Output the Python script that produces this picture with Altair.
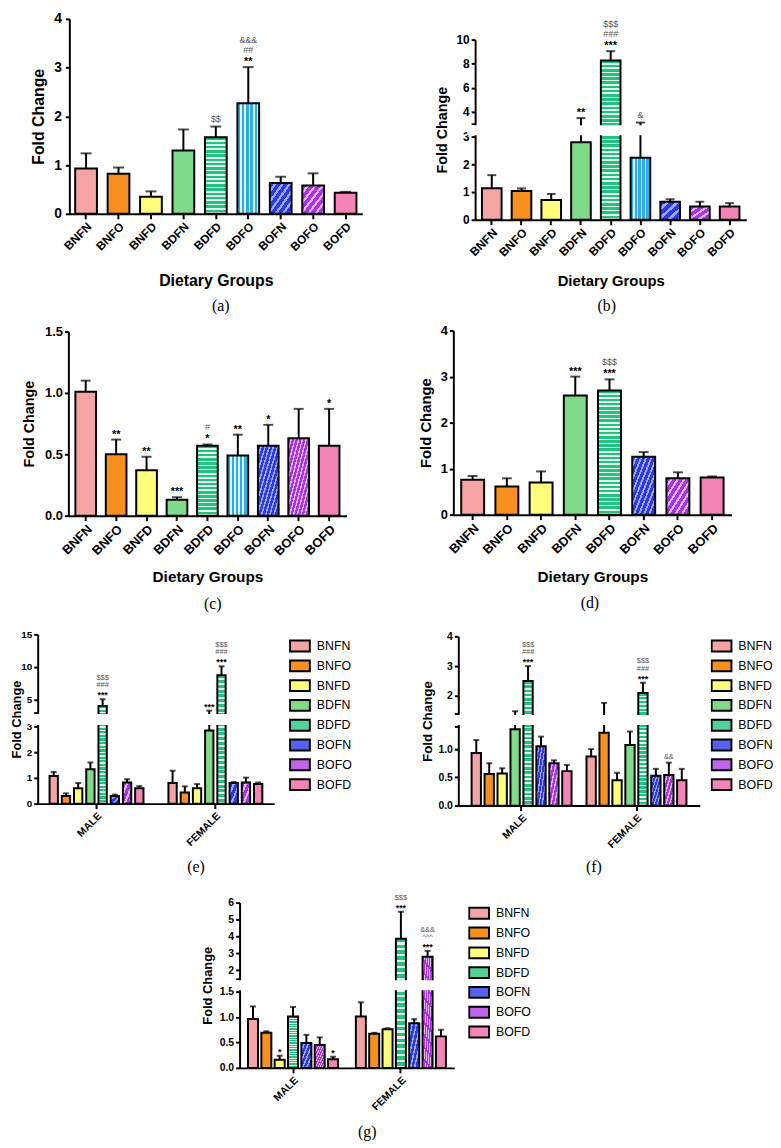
import altair as alt
import numpy as np
import pandas as pd

# ------------------------------------------------------------------ data
GAP = 1e-6  # tiny domain step used for the broken (split) y-axes

DIET9 = ["BNFN", "BNFO", "BNFD", "BDFN", "BDFD", "BDFO", "BOFN", "BOFO", "BOFD"]
DIET8 = ["BNFN", "BNFO", "BNFD", "BDFN", "BDFD", "BOFN", "BOFO", "BOFD"]
DIET7 = ["BNFN", "BNFO", "BNFD", "BDFD", "BOFN", "BOFO", "BOFD"]
SEXES = ["MALE", "FEMALE"]

# (a)
A_MEAN = [0.93, 0.82, 0.35, 1.30, 1.57, 2.27, 0.63, 0.58, 0.43]
A_ERR = [1.24, 0.95, 0.46, 1.73, 1.79, 3.01, 0.76, 0.83, 0.45]
A_NOTES = ["", "", "", "", "$$", "**|##|&&&", "", "", ""]
A_TICKS = [0, 1, 2, 3, 4]
A_TICK_LABELS = ["0", "1", "2", "3", "4"]

# (b)
B_MEAN = [1.14, 1.04, 0.71, 2.80, 8.26, 2.24, 0.65, 0.48, 0.48]
B_ERR = [1.61, 1.13, 0.93, 3.47, 9.04, 3.10, 0.74, 0.65, 0.60]
B_NOTES = ["", "", "", "**", "***|###|$$$", "&", "", "", ""]
B_TICKS = [0, 1, 2, 3, 3 + GAP, 4, 6, 8, 10]
B_TICK_LABELS = ["0", "1", "2", "3", "", "4", "6", "8", "10"]

# (c)
C_MEAN = [1.01, 0.50, 0.37, 0.13, 0.57, 0.49, 0.57, 0.63, 0.57]
C_ERR = [1.10, 0.62, 0.48, 0.15, 0.58, 0.66, 0.74, 0.87, 0.87]
C_NOTES = ["", "**", "**", "***", "*|#", "**", "*", "", "*"]
C_TICKS = [0, 0.5, 1.0, 1.5]
C_TICK_LABELS = ["0.0", "0.5", "1.0", "1.5"]

# (d)
D_MEAN = [0.76, 0.61, 0.70, 2.59, 2.70, 1.26, 0.79, 0.81]
D_ERR = [0.84, 0.79, 0.94, 3.00, 2.94, 1.36, 0.92, 0.83]
D_NOTES = ["", "", "", "***", "***|$$$", "", "", ""]
D_TICKS = [0, 1, 2, 3, 4]
D_TICK_LABELS = ["0", "1", "2", "3", "4"]

# (e)
E_MALE_MEAN = [1.07, 0.30, 0.60, 1.34, 4.03, 0.30, 0.82, 0.60]
E_MALE_ERR = [1.23, 0.40, 0.80, 1.60, 5.05, 0.35, 0.95, 0.68]
E_MALE_NOTES = ["", "", "", "", "***|###|$$$", "", "", ""]
E_FEMALE_MEAN = [0.80, 0.43, 0.60, 2.84, 8.72, 0.80, 0.82, 0.76]
E_FEMALE_ERR = [1.28, 0.67, 0.76, 3.30, 10.1, 0.84, 1.01, 0.82]
E_FEMALE_NOTES = ["", "", "", "***", "***|###|$$$", "", "", ""]
E_TICKS = [0, 1, 2, 3, 3 + GAP, 5, 10, 15]
E_TICK_LABELS = ["0", "1", "2", "3", "", "5", "10", "15"]

# (f)
F_MALE_MEAN = [0.93, 0.56, 0.57, 1.35, 2.50, 1.05, 0.75, 0.61]
F_MALE_ERR = [1.16, 0.75, 0.66, 1.48, 3.00, 1.22, 0.80, 0.72]
F_MALE_NOTES = ["", "", "", "", "***|###|$$$", "", "", ""]
F_FEMALE_MEAN = [0.87, 1.29, 0.45, 1.07, 2.09, 0.53, 0.54, 0.45]
F_FEMALE_ERR = [1.00, 1.76, 0.58, 1.31, 2.44, 0.65, 0.76, 0.65]
F_FEMALE_NOTES = ["", "", "", "", "***|###|$$$", "", "&&", ""]
F_TICKS = [0, 0.5, 1.0, 1.4, 1.4 + GAP, 2, 3, 4]
F_TICK_LABELS = ["0.0", "0.5", "1.0", "", "", "2", "3", "4"]

# (g)
G_MALE_MEAN = [0.96, 0.69, 0.16, 1.01, 0.49, 0.45, 0.17]
G_MALE_ERR = [1.21, 0.72, 0.24, 1.20, 0.65, 0.60, 0.22]
G_MALE_NOTES = ["", "", "*", "", "", "", "*"]
G_FEMALE_MEAN = [1.01, 0.67, 0.76, 3.87, 0.88, 2.80, 0.62]
G_FEMALE_ERR = [1.29, 0.69, 0.78, 5.46, 0.96, 3.15, 0.75]
G_FEMALE_NOTES = ["", "", "", "***|$$$", "", "***|^^^|&&&", ""]
G_TICKS = [0, 0.5, 1.0, 1.5, 1.5 + GAP, 2, 3, 4, 5, 6]
G_TICK_LABELS = ["0.0", "0.5", "1.0", "1.5", "", "2", "3", "4", "5", "6"]

# ------------------------------------------------------------------ styling / layout
W, H = 773, 1140
SHIFT_Y = 2


def gx(x):
    return x - 8


FONT = "Liberation Sans"
SERIF = "Liberation Serif"

SOLID = {
    "BNFN": "#F4A4A4", "BNFO": "#F7901F", "BNFD": "#FFFF7C", "BDFN": "#7FDB89",
    "BDFD": "#52D29B", "BDFO": "#5CC2E8", "BOFN": "#5562EC", "BOFO": "#BE66EA",
    "BOFD": "#F385B6",
}
PATTERN = {
    "BDFD": ("h", "#22C281", "#E2F8EE"),
    "BDFO": ("v", "#2FAEDD", "#DDF2FA"),
    "BOFN": ("d", "#2C3BE3", "#9EA7F5"),
    "BOFO": ("d", "#A637E0", "#E2B2F6"),
}


def stripes(kind, base, light, n):
    stops = []
    for i in range(n):
        a, b, c = i / n, (i + 0.62) / n, (i + 1) / n
        stops += [alt.GradientStop(color=base, offset=round(a, 5)),
                  alt.GradientStop(color=base, offset=round(b, 5)),
                  alt.GradientStop(color=light, offset=round(b, 5)),
                  alt.GradientStop(color=light, offset=round(min(c, 1), 5))]
    vec = {"h": (0, 0, 0, 1), "v": (0, 0, 1, 0), "d": (0, 0, 1, 1)}[kind]
    return alt.LinearGradient(gradient="linear", stops=stops,
                              x1=vec[0], y1=vec[1], x2=vec[2], y2=vec[3])


def label_expr(ticks, labels):
    expr = "''"
    for t, l in reversed(list(zip(ticks, labels))):
        expr = f"abs(datum.value - {t!r}) < 1e-9 ? '{l}' : ({expr})"
    return expr


def band(n, length, pi, po):
    step = length / (n - pi + 2 * po)
    return step * (1 - pi)


AXIS_COMMON = dict(domainColor="black", domainWidth=2, tickColor="black", tickWidth=2,
                   labelColor="black", labelFont=FONT, labelFontWeight="bold",
                   titleFont=FONT, titleFontWeight="bold", titleColor="black", grid=False)

PANELS = [
    dict(cats=DIET9, mean=A_MEAN, err=A_ERR, notes=A_NOTES, ticks=A_TICKS, tlab=A_TICK_LABELS,
         x0=70, x1=366, pi=0.33, po=0.18, ydom=[0, 4], yrng=[204, 7], dy=4,
         xlab=12, ylab=14, ytf=16, ytx=39, lpad=4, xtitle="Dietary Groups", xtf=16, xty=271,
         cap=11, caption="(a)", cpos=(223, 297)),
    dict(cats=DIET9, mean=B_MEAN, err=B_ERR, notes=B_NOTES, ticks=B_TICKS, tlab=B_TICK_LABELS,
         x0=480, x1=754, pi=0.34, po=0.23, ydom=[0, 3, 3 + GAP, 10], yrng=[210, 126, 113, 28], dy=4,
         xlab=12, ylab=12, ytf=14.5, ytx=447, lpad=2, xtitle="Dietary Groups", xtf=15, xty=271,
         cap=9, caption="(b)", cpos=(613, 297)),
    dict(cats=DIET9, mean=C_MEAN, err=C_ERR, notes=C_NOTES, ticks=C_TICKS, tlab=C_TICK_LABELS,
         x0=69, x1=350, pi=0.32, po=0.23, ydom=[0, 1.5], yrng=[513, 327],
         xlab=13, ylab=13, ytf=14.5, ytx=30, lpad=2, xtitle="Dietary Groups", xtf=15.5, xty=575,
         cap=10, caption="(c)", cpos=(215, 602)),
    dict(cats=DIET8, mean=D_MEAN, err=D_ERR, notes=D_NOTES, ticks=D_TICKS, tlab=D_TICK_LABELS,
         x0=458, x1=739, pi=0.33, po=0.23, ydom=[0, 4], yrng=[512, 326],
         xlab=13, ylab=13, ytf=15, ytx=430, lpad=2, xtitle="Dietary Groups", xtf=15.5, xty=575,
         cap=10, caption="(d)", cpos=(596, 601)),
    dict(series=DIET8, mean=[E_MALE_MEAN, E_FEMALE_MEAN], err=[E_MALE_ERR, E_FEMALE_ERR],
         notes=[E_MALE_NOTES, E_FEMALE_NOTES], ticks=E_TICKS, tlab=E_TICK_LABELS,
         x0=38, x1=277, pi=0.21, po=0.10, opi=0.32, ydom=[0, 3, 3 + GAP, 15], yrng=[804, 726, 712, 633],
         xlab=10.5, ylab=10, ytf=13, ytx=16.5, lpad=2, cap=6, caption="(e)", cpos=(198, 868),
         legend=(292, 635)),
    dict(series=DIET8, mean=[F_MALE_MEAN, F_FEMALE_MEAN], err=[F_MALE_ERR, F_FEMALE_ERR],
         notes=[F_MALE_NOTES, F_FEMALE_NOTES], ticks=F_TICKS, tlab=F_TICK_LABELS,
         x0=463, x1=707, pi=0.13, po=0.116, opi=0.28, ydom=[0, 1.4, 1.4 + GAP, 4], yrng=[806, 726, 713, 635],
         xlab=10.5, ylab=10.5, ytf=13.5, ytx=432, lpad=2, cap=6, caption="(f)", cpos=(600, 868),
         legend=(718, 635)),
    dict(series=DIET7, mean=[G_MALE_MEAN, G_FEMALE_MEAN], err=[G_MALE_ERR, G_FEMALE_ERR],
         notes=[G_MALE_NOTES, G_FEMALE_NOTES], ticks=G_TICKS, tlab=G_TICK_LABELS,
         x0=242, x1=459, pi=0.165, po=0.078, opi=0.25, ydom=[0, 1.5, 1.5 + GAP, 6], yrng=[1071, 994, 981, 904],
         xlab=10.5, ylab=10.5, ytf=13, ytx=210, lpad=2, cap=6, caption="(g)", cpos=(371, 1136),
         legend=(473, 905)),
]


def make_panel(p):
    dyp = p.get("dy", 0)

    def gy(y):
        return y - 8 + SHIFT_Y + dyp

    grouped = "series" in p
    rows = []
    if grouped:
        series = p["series"]
        for sex, means, errs, notes in zip(SEXES, p["mean"], p["err"], p["notes"]):
            for s, m, e, n in zip(series, means, errs, notes):
                rows.append(dict(cat=sex, ser=s, v=m, err=e, note=n))
        xdomain = SEXES
    else:
        series = p["cats"]
        for s, m, e, n in zip(series, p["mean"], p["err"], p["notes"]):
            rows.append(dict(cat=s, ser=s, v=m, err=e, note=n))
        xdomain = series
    df = pd.DataFrame(rows)
    base = alt.Chart(df)
    big = not grouped

    # geometry used only for stripe density
    length = p["x1"] - p["x0"]
    if grouped:
        gw = band(2, length, p["pi"], p["po"])
        bw = band(len(series), gw, p["opi"], 0)
    else:
        bw = band(len(series), length, p["pi"], p["po"])

    def bar_h(v):
        return p["yrng"][0] - np.interp(v, p["ydom"], p["yrng"])

    xs = alt.Scale(domain=xdomain, range=[gx(p["x0"]), gx(p["x1"])],
                   paddingInner=p["pi"], paddingOuter=p["po"])
    xkw = dict(orient="bottom", offset=gy(p["yrng"][0]) - H, labelAngle=-45,
               labelFontSize=p["xlab"], tickSize=5, labelPadding=2, labelOverlap=False, **AXIS_COMMON)
    if p.get("xtitle"):
        xkw.update(title=p["xtitle"], titleFontSize=p["xtf"], titleY=p["xty"] - p["yrng"][0],
                   titleBaseline="middle")
    else:
        xkw.update(title="")
    xa = alt.Axis(**xkw)

    ys = alt.Scale(domain=p["ydom"], range=[gy(v) for v in p["yrng"]], nice=False, zero=False)
    ya = alt.Axis(orient="left", offset=-gx(p["x0"]), values=p["ticks"],
                  labelExpr=label_expr(p["ticks"], p["tlab"]), labelOverlap=False,
                  labelFontSize=p["ylab"], tickSize=4, labelPadding=p["lpad"],
                  title="Fold Change", titleFontSize=p["ytf"], titleX=p["ytx"] - p["x0"],
                  titleBaseline="middle", titleAngle=270, **AXIS_COMMON)

    def enc(**kw):
        e = dict(x=alt.X("cat:N", scale=xs, axis=xa))
        if grouped:
            e["xOffset"] = alt.XOffset("ser:N", scale=alt.Scale(domain=series, paddingInner=p["opi"],
                                                                 paddingOuter=0))
        e.update(kw)
        return e

    def Y(f):
        return alt.Y(f"{f}:Q", scale=ys, axis=ya)

    layers = [base.mark_rule(color="black", strokeWidth=2).encode(**enc(y=Y("v"), y2="err:Q"))]

    for s in series:
        if s in PATTERN:
            kind, c1, c2 = PATTERN[s]
            hs = float(np.mean([bar_h(v) for v in df.loc[df.ser == s, "v"]]))
            if kind == "h":
                n = round(hs / 4.2)
            elif kind == "v":
                n = round(bw / 4.0)
            else:
                n = round((bw + hs) / 2 / 4.5)
            fill = stripes(kind, c1, c2, max(2, n))
        else:
            fill = SOLID[s]
        layers.append(base.transform_filter(alt.datum.ser == s)
                      .mark_bar(fill=fill, stroke="black", strokeWidth=2)
                      .encode(**enc(y=Y("v"), y2=alt.datum(0))))

    if len(p["ydom"]) == 4:
        lo, hi = p["ydom"][1], p["ydom"][2]
        gap_px = p["yrng"][1] - p["yrng"][2]
        ins = (hi - lo) * 1.5 / gap_px
        one = alt.Chart(pd.DataFrame({"k": [0]}))
        layers.append(one.mark_rect(color="white").encode(
            x=alt.value(gx(p["x0"]) - 8), x2=alt.value(gx(p["x1"]) + 2),
            y=alt.datum(lo + ins, scale=ys, axis=ya), y2=alt.datum(hi - ins)))

    layers.append(base.mark_tick(color="black", thickness=2, size=p["cap"]).encode(**enc(y=Y("err"))))

    # significance annotations
    nrows = []
    for r in rows:
        if r["note"]:
            for lvl, t in enumerate(r["note"].split("|")):
                nrows.append(dict(cat=r["cat"], ser=r["ser"], err=r["err"], t=t, lvl=lvl,
                                  star=set(t) == {"*"}))
    if nrows:
        ndf = pd.DataFrame(nrows)
        offs = [7.5, 17.5, 27.0] if big else [6.0, 14.0, 21.5]
        for (lvl, star), sub in ndf.groupby(["lvl", "star"]):
            if star:
                mk = dict(fontSize=11 if big else 9, fontWeight="bold", color="black",
                          dy=-(offs[lvl] - (2.5 if big else 2.0)))
            else:
                mk = dict(fontSize=9 if big else 7.5, color="#555555", dy=-offs[lvl])
            layers.append(alt.Chart(sub).mark_text(font=FONT, baseline="middle", **mk)
                          .encode(**enc(y=Y("err"), text="t:N")))

    if p.get("legend"):
        lx, ly = p["legend"]
        leg = alt.Legend(title=None, orient="none", legendX=gx(lx), legendY=gy(ly),
                         symbolType="M-1,-0.55L1,-0.55L1,0.55L-1,0.55Z", symbolSize=400,
                         symbolStrokeColor="black", symbolStrokeWidth=2, symbolOpacity=1,
                         labelFont=FONT, labelFontSize=12.5, labelColor="black", labelOffset=6,
                         rowPadding=0, clipHeight=19.5, padding=0)
        layers.append(base.mark_point(filled=True, opacity=0, size=1).encode(
            x=alt.value(0), y=alt.value(0),
            color=alt.Color("ser:N", scale=alt.Scale(domain=series, range=[SOLID[s] for s in series]),
                            legend=leg)))

    cx, cy = p["cpos"]
    layers.append(alt.Chart(pd.DataFrame({"t": [p["caption"]]}))
                  .mark_text(font=SERIF, fontSize=16, color="black", baseline="middle")
                  .encode(x=alt.value(gx(cx)), y=alt.value(gy(cy)), text="t:N"))
    return alt.layer(*layers)


chart = (alt.layer(*[make_panel(p) for p in PANELS])
         .resolve_scale(x="independent", y="independent", xOffset="independent", color="independent")
         .properties(width=W, height=H, autosize=alt.AutoSizeParams(type="none"), padding=0)
         .configure_view(strokeWidth=0))

chart.save("out.html", embed_options={"renderer": "svg", "actions": False})
